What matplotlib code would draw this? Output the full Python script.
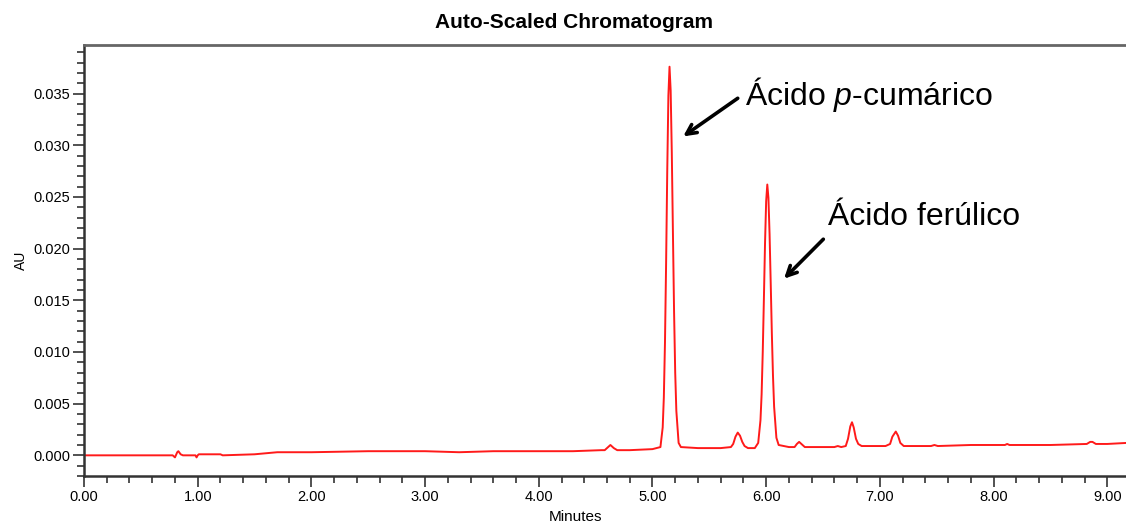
import matplotlib
matplotlib.use("Agg")
import matplotlib.pyplot as plt
from matplotlib.ticker import MultipleLocator, FormatStrFormatter

plt.rcParams['font.family'] = ['Liberation Sans', 'DejaVu Sans']
plt.rcParams['mathtext.fontset'] = 'custom'
plt.rcParams['mathtext.rm'] = 'Liberation Sans'
plt.rcParams['mathtext.it'] = 'Liberation Sans:italic'

# trace (minutes, AU)
minutes = [
    0.00, 0.40, 0.78, 0.80, 0.82, 0.83, 0.85, 0.87, 0.98, 0.99, 1.00, 1.01,
    1.20, 1.22, 1.50, 1.70, 2.00, 2.50, 3.00, 3.30, 3.60, 4.00, 4.30, 4.55,
    4.58, 4.60, 4.63, 4.66, 4.69, 4.80, 5.00,
    5.07, 5.09, 5.10, 5.11, 5.12, 5.13, 5.14, 5.15, 5.16, 5.17, 5.18, 5.19,
    5.20, 5.21, 5.23, 5.25, 5.40, 5.60,
    5.69, 5.71, 5.73, 5.75, 5.77, 5.79, 5.81, 5.84, 5.90,
    5.93, 5.95, 5.96, 5.97, 5.98, 5.99, 6.00, 6.01, 6.02, 6.03, 6.04, 6.05,
    6.06, 6.07, 6.09, 6.11, 6.20,
    6.25, 6.27, 6.29, 6.31, 6.34, 6.50, 6.60, 6.63, 6.66,
    6.70, 6.72, 6.74, 6.755, 6.77, 6.79, 6.81, 6.84, 6.90, 7.05,
    7.09, 7.11, 7.14, 7.16, 7.18, 7.21, 7.30, 7.45, 7.48, 7.51, 7.80,
    8.10, 8.12, 8.14, 8.50, 8.82, 8.85, 8.87, 8.90, 8.95, 9.00, 9.17,
]
absorbance = [
    0.0000, 0.0000, 0.0000, -0.0002, 0.0003, 0.0004, 0.0001, 0.0000, 0.0000, -0.0002, 0.0000, 0.0001,
    0.0001, 0.0000, 0.0001, 0.0003, 0.0003, 0.0004, 0.0004, 0.0003, 0.0004, 0.0004, 0.0004, 0.0005,
    0.0005, 0.0007, 0.0010, 0.0007, 0.0005, 0.0005, 0.0006,
    0.0008, 0.0027, 0.0056, 0.0109, 0.0186, 0.0275, 0.0348, 0.0376, 0.0353, 0.0293, 0.0215, 0.0139,
    0.0080, 0.0043, 0.0012, 0.0008, 0.0007, 0.0007,
    0.0008, 0.0011, 0.0018, 0.0022, 0.0019, 0.0013, 0.0009, 0.0007, 0.0007,
    0.0012, 0.0034, 0.0059, 0.0100, 0.0151, 0.0205, 0.0246, 0.0262, 0.0249, 0.0214, 0.0167, 0.0118,
    0.0077, 0.0047, 0.0017, 0.0010, 0.0008,
    0.0008, 0.0011, 0.0013, 0.0011, 0.0008, 0.0008, 0.0008, 0.0009, 0.0008,
    0.0009, 0.0016, 0.0028, 0.0032, 0.0027, 0.0016, 0.0011, 0.0009, 0.0009, 0.0009,
    0.0011, 0.0018, 0.0023, 0.0019, 0.0012, 0.0009, 0.0009, 0.0009, 0.0010, 0.0009, 0.0010,
    0.0010, 0.0011, 0.0010, 0.0010, 0.0011, 0.0013, 0.0013, 0.0011, 0.0011, 0.0011, 0.0012,
]

peak_labels = ["Ácido $\\mathit{p}$-cumárico", "Ácido ferúlico"]
label_xy = [(5.81, 0.0349), (6.54, 0.0231)]
arrow_tail = [(5.77, 0.0347), (6.52, 0.0211)]
arrow_head = [(5.25, 0.0307), (6.14, 0.0169)]

fig = plt.figure(figsize=(11.26, 5.25), dpi=100)
ax = fig.add_axes([84 / 1126, 49 / 525, 1 - 84 / 1126, 431 / 525])

ax.plot(minutes, absorbance, color='#ff1a1a', lw=1.4)

ax.set_xlim(0, 9.165)
ax.set_ylim(-0.0020, 0.0397)

ax.xaxis.set_major_locator(MultipleLocator(1.0))
ax.xaxis.set_minor_locator(MultipleLocator(0.2))
ax.yaxis.set_major_locator(MultipleLocator(0.005))
ax.yaxis.set_minor_locator(MultipleLocator(0.001))
ax.xaxis.set_major_formatter(FormatStrFormatter('%.2f'))
ax.yaxis.set_major_formatter(FormatStrFormatter('%.3f'))
ax.tick_params(which='major', length=8, width=1.1, labelsize=10.5, color='#222222', pad=2)
ax.tick_params(which='minor', length=5, width=1.1, color='#222222')

ax.spines['right'].set_visible(False)
ax.spines['left'].set_linewidth(1.8)
ax.spines['bottom'].set_linewidth(1.8)
ax.spines['left'].set_color('#333333')
ax.spines['bottom'].set_color('#333333')
ax.spines['top'].set_linewidth(2)
ax.spines['top'].set_color('#666666')

ax.set_xlabel("Minutes", fontsize=11)
ax.xaxis.set_label_coords(491 / 1042, -0.08)
ax.set_ylabel("AU", fontsize=10)
ax.yaxis.set_label_coords(-0.054, 0.5)

fig.text(574 / 1126, 1 - 22 / 525, "Auto-Scaled Chromatogram", ha='center', va='center',
         fontsize=15, fontweight='bold')

for lab, xy, tail, head in zip(peak_labels, label_xy, arrow_tail, arrow_head):
    ax.annotate("", xy=head, xytext=tail,
                arrowprops=dict(arrowstyle='->,head_length=0.7,head_width=0.35', lw=2.6, color='black'))
    ax.text(xy[0], xy[1], lab, fontsize=23, ha='left', va='center')

fig.savefig("out.png", dpi=100)
